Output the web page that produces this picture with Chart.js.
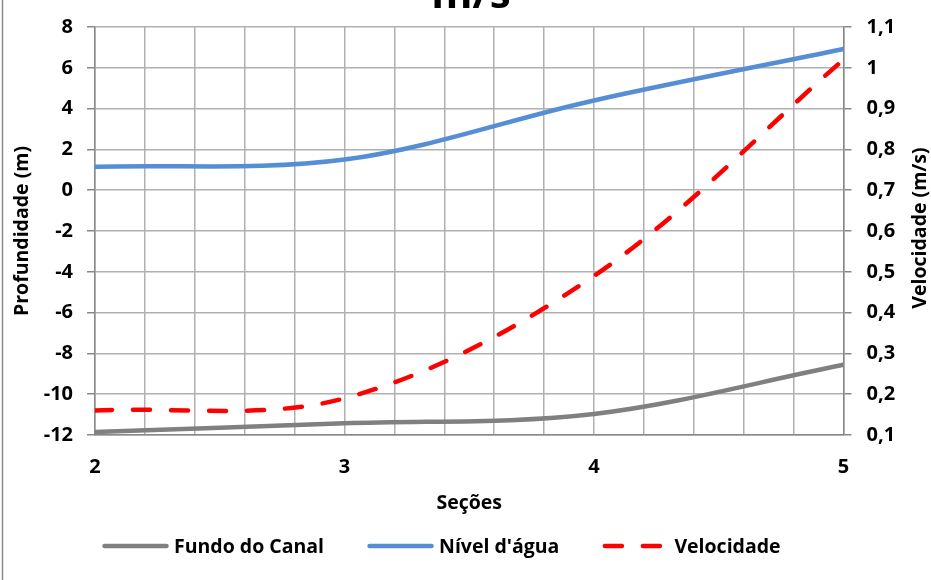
<!DOCTYPE html>
<html>
<head>
<meta charset="utf-8">
<script src="https://cdn.jsdelivr.net/npm/chart.js@4.4.0/dist/chart.umd.min.js"></script>
<style>
  html, body { margin: 0; padding: 0; background: #ffffff; }
  #wrap { width: 931px; height: 580px; position: relative; }
</style>
</head>
<body>
<div id="wrap"><canvas id="c" width="931" height="580"></canvas></div>
<script>
// Seções ao longo do canal
const sections = [2, 3, 4, 5];
// Cota do fundo do canal (m)
const fundoCanal = [-11.85, -11.43, -10.97, -8.56];
// Nível d'água (m)
const nivelAgua = [1.15, 1.5, 4.4, 6.92];
// Velocidade média (m/s)
const velocidade = [0.16, 0.19, 0.49, 1.02];

// Marcas dos eixos
const sectionTicks = [2, 2.2, 2.4, 2.6, 2.8, 3, 3.2, 3.4, 3.6, 3.8, 4, 4.2, 4.4, 4.6, 4.8, 5];
const sectionLabels = ['2', '3', '4', '5'];
const depthTicks = [-12, -10, -8, -6, -4, -2, 0, 2, 4, 6, 8];
const speedTicks = [0.1, 0.2, 0.3, 0.4, 0.5, 0.6, 0.7, 0.8, 0.9, 1, 1.1];

const chartTitle = 'm/s';
const speedAxisTitle = 'Velocidade (m/s)';

const FONT = '"Open Sans", "Liberation Sans", sans-serif';
const GRID = '#b0b0b0';
const AXIS = '#888888';
const TXT = 19.5;
const TICK = 20;

Chart.defaults.font.family = FONT;
Chart.defaults.color = '#000000';

const toPoints = (ys) => sections.map((x, i) => ({ x: x, y: ys[i] }));
const commaNum = (v) => String(Number(v.toFixed(2))).replace('.', ',');

// Título (parcialmente fora da área), título do eixo direito e borda esquerda
const framePlugin = {
  id: 'frame',
  afterDraw(chart) {
    const ctx = chart.ctx;
    const area = chart.chartArea;
    ctx.save();
    ctx.strokeStyle = '#8c8c8c';
    ctx.lineWidth = 1.5;
    ctx.beginPath();
    ctx.moveTo(2.5, 0);
    ctx.lineTo(2.5, chart.height);
    ctx.stroke();

    ctx.fillStyle = '#000000';
    ctx.font = 'bold 42px ' + FONT;
    ctx.textAlign = 'center';
    ctx.textBaseline = 'alphabetic';
    ctx.fillText(chartTitle, 471, 8);

    // título do eixo secundário, lido de baixo para cima
    ctx.font = 'bold ' + TXT + 'px ' + FONT;
    ctx.textBaseline = 'middle';
    ctx.translate(chart.scales.y1.right - 11, (area.top + area.bottom) / 2 - 3);
    ctx.rotate(-Math.PI / 2);
    ctx.fillText(speedAxisTitle, 0, 0);
    ctx.restore();
  }
};

// Legenda em linha abaixo do título do eixo X
const legendPlugin = {
  id: 'lineLegend',
  afterDraw(chart) {
    const ctx = chart.ctx;
    const y = 546;
    let x = 102;
    ctx.save();
    ctx.font = 'bold ' + TXT + 'px ' + FONT;
    ctx.textBaseline = 'middle';
    ctx.textAlign = 'left';
    chart.data.datasets.forEach((ds) => {
      ctx.strokeStyle = ds.borderColor;
      ctx.lineWidth = ds.borderWidth;
      ctx.lineCap = 'round';
      ctx.setLineDash(ds.borderDash || []);
      ctx.beginPath();
      ctx.moveTo(x + 2.5, y);
      ctx.lineTo(x + 64.5, y);
      ctx.stroke();
      ctx.setLineDash([]);
      ctx.fillStyle = '#000000';
      ctx.fillText(ds.label, x + 72, y + 1);
      x += 72 + ctx.measureText(ds.label).width + 43;
    });
    ctx.restore();
  }
};

new Chart(document.getElementById('c'), {
  type: 'line',
  data: {
    datasets: [
      {
        label: 'Fundo do Canal',
        data: toPoints(fundoCanal),
        yAxisID: 'y',
        borderColor: '#808080',
        borderWidth: 4.5,
        borderCapStyle: 'round',
        pointRadius: 0,
        tension: 0.34,
        fill: false
      },
      {
        label: "Nível d'água",
        data: toPoints(nivelAgua),
        yAxisID: 'y',
        borderColor: '#558ed5',
        borderWidth: 4.5,
        borderCapStyle: 'round',
        pointRadius: 0,
        tension: 0.34,
        fill: false
      },
      {
        label: 'Velocidade',
        data: toPoints(velocidade),
        yAxisID: 'y1',
        borderColor: '#ff0000',
        borderWidth: 4.5,
        borderCapStyle: 'round',
        borderDash: [17, 21],
        pointRadius: 0,
        tension: 0.34,
        fill: false
      }
    ]
  },
  options: {
    responsive: false,
    animation: false,
    layout: { padding: { top: 16, bottom: 65, left: 0, right: 0 } },
    plugins: {
      legend: { display: false },
      title: { display: false },
      tooltip: { enabled: false }
    },
    scales: {
      x: {
        type: 'linear',
        min: 2,
        max: 5,
        afterBuildTicks: (s) => { s.ticks = sectionTicks.map((v) => ({ value: v })); },
        afterFit: (s) => { s.height = 80; },
        ticks: {
          autoSkip: false,
          maxRotation: 0,
          padding: 20,
          font: { size: TICK, weight: 'bold' },
          callback: (v) => {
            const lbl = String(Number(v.toFixed(2)));
            return sectionLabels.includes(lbl) ? lbl : '';
          }
        },
        grid: { color: GRID, lineWidth: 1.5, drawTicks: false },
        border: { color: AXIS, width: 1.5 },
        title: {
          display: true,
          text: 'Seções',
          font: { size: TXT, weight: 'bold' },
          padding: { top: 0, bottom: 0 }
        }
      },
      y: {
        type: 'linear',
        position: 'left',
        min: -12,
        max: 8,
        afterBuildTicks: (s) => { s.ticks = depthTicks.map((v) => ({ value: v })); },
        afterFit: (s) => { s.width = 95; },
        ticks: {
          padding: 14,
          font: { size: TICK, weight: 'bold' },
          callback: (v) => String(v)
        },
        grid: { color: GRID, lineWidth: 1.5, tickLength: 8, tickColor: AXIS },
        border: { color: AXIS, width: 1.5 },
        title: {
          display: true,
          text: 'Profundidade (m)',
          font: { size: TXT, weight: 'bold' },
          padding: { top: 11, bottom: 0 }
        }
      },
      y1: {
        type: 'linear',
        position: 'right',
        min: 0.1,
        max: 1.1,
        afterBuildTicks: (s) => { s.ticks = speedTicks.map((v) => ({ value: v })); },
        afterFit: (s) => { s.width = 87.5; },
        ticks: {
          padding: 15,
          font: { size: TICK, weight: 'bold' },
          callback: (v) => commaNum(v)
        },
        grid: { drawOnChartArea: false, color: AXIS, lineWidth: 1.5, tickLength: 8 },
        border: { color: AXIS, width: 1.5 },
        title: { display: false }
      }
    }
  },
  plugins: [framePlugin, legendPlugin]
});
</script>
</body>
</html>
